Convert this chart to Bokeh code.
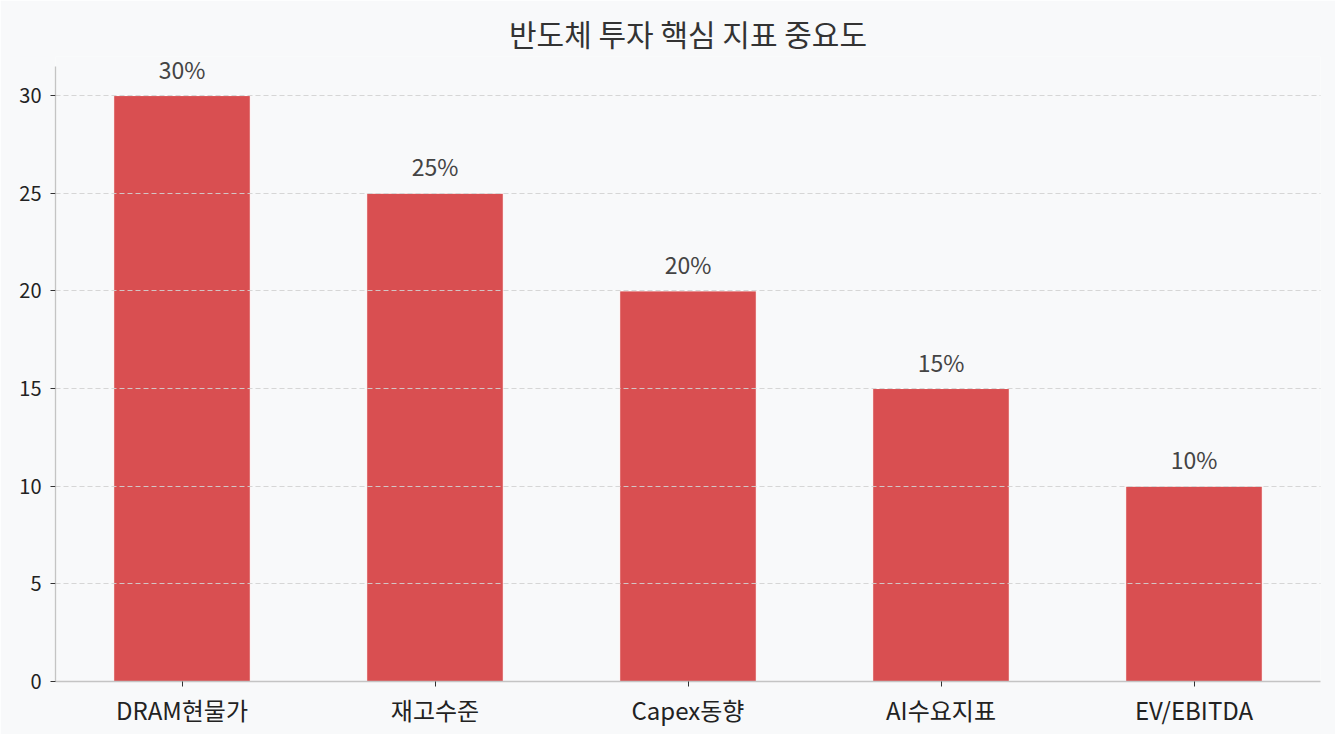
from bokeh.plotting import figure
from bokeh.models import ColumnDataSource, Range1d, SingleIntervalTicker, LabelSet
from bokeh.core.properties import value
from bokeh.embed import file_html
from bokeh.resources import INLINE

categories = ["DRAM현물가", "재고수준", "Capex동향", "AI수요지표", "EV/EBITDA"]
values = [30, 25, 20, 15, 10]
labels = ["30%", "25%", "20%", "15%", "10%"]

FONT = "Noto Sans CJK KR"
BG = "#f8f9fa"

src = ColumnDataSource(dict(cat=categories, val=values, lab=labels))

p = figure(x_range=categories, width=1335, height=734, output_backend="svg",
           toolbar_location=None, title="반도체 투자 핵심 지표 중요도")
p.y_range = Range1d(0, 32.0)
p.x_range.range_padding = 0
p.background_fill_color = BG
p.border_fill_color = BG
p.outline_line_color = None
p.min_border_left = 55
p.min_border_right = 15
p.min_border_top = 56
p.min_border_bottom = 53

p.title.align = "center"
p.title.vertical_align = "top"
p.title.text_font = FONT
p.title.text_font_size = "30px"
p.title.text_font_style = "normal"
p.title.text_color = "#333333"
p.title.standoff = 0

p.vbar(x="cat", top="val", width=0.54, source=src, fill_color="#d94f51",
       line_color="white", line_width=1)

p.add_layout(LabelSet(x="cat", y="val", text="lab", source=src, text_align="center",
                      text_baseline="bottom", y_offset=10, text_font=value(FONT),
                      text_font_size="23px", text_color="#444444"))

p.xgrid.visible = False
p.ygrid.grid_line_color = "#d2d2d2"
p.ygrid.grid_line_alpha = 0.9
p.ygrid.grid_line_dash = "5 3"
p.ygrid.level = "overlay"
p.yaxis.ticker = SingleIntervalTicker(interval=5)
p.yaxis.bounds = (0, 31.5)

for ax in (p.xaxis[0], p.yaxis[0]):
    ax.axis_line_color = "#c4c4c4"
    ax.axis_line_width = 1.3
    ax.major_tick_line_color = "#333333"
    ax.major_tick_in = 0
    ax.major_tick_out = 5
    ax.minor_tick_line_color = None
    ax.major_label_text_font = FONT
    ax.major_label_text_color = "#222222"
p.yaxis.major_label_text_font_size = "20px"
p.xaxis.major_label_text_font_size = "24px"
p.yaxis.major_label_standoff = 9
p.xaxis.major_label_standoff = 5

open("out.html", "w").write(file_html(p, INLINE))
